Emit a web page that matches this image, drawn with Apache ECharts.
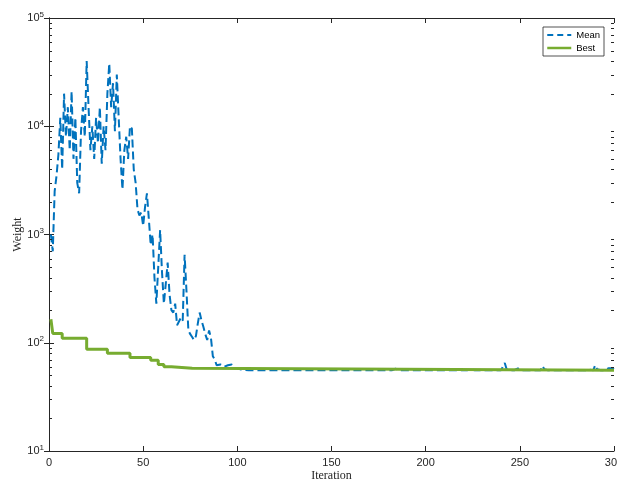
<!DOCTYPE html>
<html>
<head>
<meta charset="utf-8">
<script src="https://cdn.jsdelivr.net/npm/echarts@6/dist/echarts.min.js"></script>
<style>html,body{margin:0;padding:0;background:#fff}#c{width:617px;height:484px}</style>
</head>
<body>
<div id="c"></div>
<script>
// ---- data ----
const xTicks = [0, 50, 100, 150, 200, 250, 300];
const yDecades = [10, 100, 1000, 10000, 100000];
const minorTickValues = [20,30,40,50,60,70,80,90,200,300,400,500,600,700,800,900,2000,3000,4000,5000,6000,7000,8000,9000,20000,30000,40000,50000,60000,70000,80000,90000];

// Mean weight per iteration (iterations 1..300)
const meanValues = [
  1000, 700, 2500, 3500, 5500, 12000, 4000, 20000, 8000, 15000,
  6000, 21000, 5000, 12000, 3000, 2400, 9000, 15000, 8000, 40000,
  15000, 6000, 10000, 5000, 12000, 7000, 15000, 4500, 10000, 6000,
  20000, 38000, 15000, 25000, 9000, 30000, 12000, 5000, 2600, 6000,
  8000, 5000, 10000, 9500, 4000, 3000, 1700, 1500, 1600, 1200,
  1800, 2400, 1400, 800, 1000, 400, 230, 500, 1100, 450,
  230, 350, 550, 280, 200, 190, 230, 145, 140, 170,
  160, 650, 300, 130, 120, 113, 106, 115, 150, 190,
  160, 140, 120, 106, 130, 110, 75, 70, 62, 60,
  63, 64, 60, 58, 62, 60, 63, 58, 57, 58,
  57, 56.5, 58, 56, 55.7, 55.7, 56, 55.7, 55.7, 55.7, 56.5, 55.7, 57, 55.7, 55.7, 55.7, 55.7, 56, 55.7, 55.7,
  57, 55.7, 55.7, 55.7, 55.7, 55.7, 55.7, 55.7, 56.5, 55.7, 55.7, 55.7, 55.7, 55.7, 55.7, 55.7, 55.7, 55.7, 55.7, 55.7,
  55.7, 55.7, 55.7, 55.7, 55.7, 55.7, 55.7, 55.7, 55.7, 55.7, 55.7, 55.7, 55.7, 55.7, 55.7, 55.7, 55.7, 55.7, 55.7, 55.7,
  55.7, 55.7, 55.7, 55.7, 55.7, 55.7, 55.7, 55.7, 55.7, 55.7, 55.7, 55.7, 55.7, 55.7, 55.7, 55.7, 55.7, 55.7, 55.7, 55.7,
  55.7, 55.7, 55.7, 57.5, 56, 55.7, 55.7, 55.7, 55.7, 55.7, 55.7, 55.7, 55.7, 55.7, 55.7, 55.7, 55.7, 55.7, 57, 55.7,
  55.7, 55.7, 55.7, 55.7, 55.7, 55.7, 55.7, 55.7, 57, 55.7, 55.7, 55.7, 55.7, 55.7, 57, 55.7, 55.7, 55.7, 55.7, 55.7,
  55.7, 55.7, 55.7, 57, 55.7, 55.7, 55.7, 55.7, 55.7, 55.7, 55.7, 55.7, 55.7, 55.7, 55.7, 55.7, 55.7, 55.7, 55.7, 55.7,
  55.7, 65, 57, 55.7, 55.7, 55.7, 55.7, 55.7, 58, 55.7, 55.7, 55.7, 55.7, 55.7, 55.7, 55.7, 55.7, 55.7, 55.7, 55.7,
  55.7, 61, 57, 55.7, 55.7, 55.7, 55.7, 55.7, 55.7, 55.7, 55.7, 55.7, 55.7, 55.7, 55.7, 55.7, 55.7, 55.7, 55.7, 55.7,
  55.7, 55.7, 55.7, 55.7, 55.7, 57, 56.5, 55.7, 55.7, 62, 57, 55.7, 55.7, 55.7, 55.7, 55.7, 58, 56, 58, 57
];

// Best weight: iterations where it changes, and the value from there on
const bestIters = [1, 2, 7, 20, 31, 43, 54, 58, 61, 65, 76, 300];
const bestValues = [165, 122, 110, 87, 80, 73, 69, 63, 60, 58, 55.7, 55.7];

// ---- chart ----
const axisColor = '#262626';
const meanData = meanValues.map((v, i) => [i + 1, v]);
const bestData = bestIters.map((it, i) => [it, bestValues[i]]);
const minorLeft = minorTickValues.map(v => [0, v]);
const minorRight = minorTickValues.map(v => [300, v]);

const chart = echarts.init(document.getElementById('c'), null, {renderer: 'canvas'});
const labelFont = 'Liberation Sans, Arial, sans-serif';
const serif = 'Liberation Serif, Times New Roman, serif';

function minorTickSeries(name, data, dir, color, len) {
  return {
    name: name, type: 'custom', xAxisIndex: 0, yAxisIndex: 0,
    data: data, silent: true, z: 10, clip: false,
    encode: {x: 0, y: 1},
    renderItem: function (params, api) {
      const p = api.coord([api.value(0), api.value(1)]);
      const y = Math.round(p[1]) + 0.5;
      return {type: 'line', shape: {x1: p[0], y1: y, x2: p[0] + dir * len, y2: y},
              style: {stroke: color, lineWidth: 1}};
    }
  };
}

const option = {
  animation: false,
  backgroundColor: '#fff',
  grid: {left: 49, right: 3, top: 18, bottom: 33, containLabel: false, outerBoundsMode: 'none'},
  legend: {
    show: true, orient: 'vertical', left: 543, top: 27,
    itemWidth: 24, itemHeight: 10, itemGap: 3,
    padding: [3, 4, 3, 3],
    borderColor: axisColor, borderWidth: 0.8, backgroundColor: '#fff', borderRadius: 0,
    textStyle: {fontFamily: labelFont, fontSize: 9.5, color: '#000'},
    itemStyle: {opacity: 0},
    data: [
      {name: 'Mean', lineStyle: {color: '#0072BD', width: 2, type: [6, 4], opacity: 1}},
      {name: 'Best', lineStyle: {color: '#77AC30', width: 2.5, opacity: 1}}
    ]
  },
  xAxis: [{
    type: 'value', min: 0, max: 300, interval: 50,
    name: 'Iteration', nameLocation: 'middle', nameGap: 19, nameMoveOverlap: false,
    nameTextStyle: {fontFamily: serif, fontSize: 12, color: axisColor},
    axisLine: {show: true, lineStyle: {color: axisColor, width: 1}},
    axisTick: {show: true, inside: true, length: 5, lineStyle: {color: axisColor}},
    axisLabel: {fontFamily: labelFont, fontSize: 11, color: axisColor, margin: 6},
    splitLine: {show: false}
  }, {
    type: 'value', min: 0, max: 300, interval: 50, position: 'top',
    axisLine: {show: true, lineStyle: {color: axisColor, width: 1}},
    axisTick: {show: true, inside: true, length: 5, lineStyle: {color: axisColor}},
    axisLabel: {show: false}, splitLine: {show: false}
  }],
  yAxis: [{
    type: 'log', logBase: 10, min: 10, max: 100000,
    name: 'Weight', nameLocation: 'middle', nameGap: 25, nameRotate: 90, nameMoveOverlap: false,
    nameTextStyle: {fontFamily: serif, fontSize: 12, color: axisColor},
    axisLine: {show: true, lineStyle: {color: axisColor, width: 1}},
    axisTick: {show: true, inside: true, length: 5, lineStyle: {color: axisColor}},
    axisLabel: {
      margin: 5,
      formatter: function (v) { return '{b|10}{s|' + Math.round(Math.log10(v)) + '}'; },
      rich: {
        b: {fontFamily: labelFont, fontSize: 11, color: axisColor},
        s: {fontFamily: labelFont, fontSize: 8, color: axisColor, padding: [0, 0, 7, 0]}
      }
    },
    splitLine: {show: false}
  }, {
    type: 'log', logBase: 10, min: 10, max: 100000, position: 'right',
    axisLine: {show: true, lineStyle: {color: axisColor, width: 1}},
    axisTick: {show: true, inside: true, length: 5, lineStyle: {color: axisColor}},
    axisLabel: {show: false}, splitLine: {show: false}
  }],
  series: [
    {
      name: 'Mean', type: 'line', data: meanData, symbol: 'none',
      xAxisIndex: 0, yAxisIndex: 0,
      lineStyle: {color: '#0072BD', width: 2, type: [8, 4]},
      itemStyle: {color: '#0072BD'}, z: 3
    },
    {
      name: 'Best', type: 'line', data: bestData, symbol: 'none', step: 'end',
      xAxisIndex: 0, yAxisIndex: 0,
      lineStyle: {color: '#77AC30', width: 3},
      itemStyle: {color: '#77AC30'}, z: 4
    },
    minorTickSeries('minorLeft', minorLeft, 1, axisColor, 3),
    minorTickSeries('minorRight', minorRight, -1, axisColor, 3)
  ]
};
chart.setOption(option);
</script>
</body>
</html>
